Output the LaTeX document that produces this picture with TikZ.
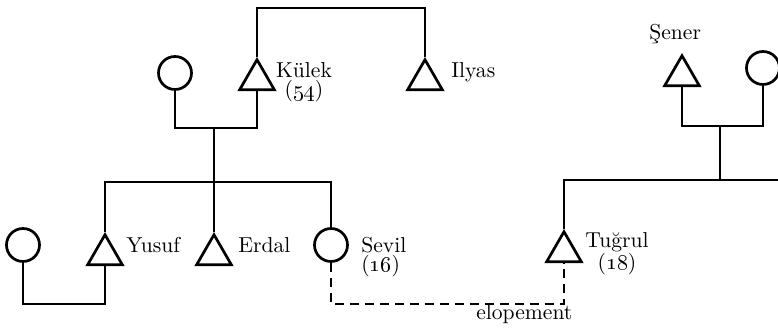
\documentclass[tikz,border=0pt]{standalone}
\usepackage{tikz}
\usetikzlibrary{shapes.geometric}
\usetikzlibrary{calc}
\tikzset{male/.style={draw, regular polygon, regular polygon sides=3, minimum size=20pt, inner sep=0pt, anchor=north}}
\tikzset{female/.style={draw, circle, minimum size=16.5pt, inner sep=0pt}}
\tikzset{lbl/.style={inner sep=0pt, font=\fontsize{10.8}{9.5}\selectfont}}
\tikzset{elope/.style={dash pattern=on 4.5pt off 3pt}}

\begin{document}
\begin{tikzpicture}[x=0.5pt,y=-0.5pt,line width=1.35pt]
  \useasboundingbox (0,0) rectangle (778,335);
  \node[female] (kulekwife) at (175,73) {};
  \node[male] (kulek) at (257,57) {};
  \node[male] (ilyas) at (425,57) {};
  \node[female] (yusufwife) at (23,245) {};
  \node[male] (yusuf) at (105,232) {};
  \node[male] (erdal) at (214,232) {};
  \node[female] (sevil) at (331,245) {};
  \node[male] (tugrul) at (564,229) {};
  \node[male] (sener) at (682,53) {};
  \node[female] (senerwife) at (763,68) {};
  \coordinate (kulektop) at (340,8);
  \coordinate (kulekmar) at (214,128);
  \coordinate (kulekkids) at (214,182);
  \coordinate (yusufmar) at (64,304);
  \coordinate (elopemar) at (448,304);
  \coordinate (senermar) at (720,126);
  \coordinate (senerkids) at (720,180);
  \coordinate (senerkidsend) at (790,180);
  \draw (kulek.north) |- (kulektop) -| (ilyas.north);
  \draw (kulekwife.south) |- (kulekmar) -| (kulek.south);
  \draw (kulekmar) -- (kulekkids);
  \draw (yusuf.north) |- (kulekkids) -| (sevil.north);
  \draw (kulekkids) -- (erdal.north);
  \draw (yusufwife.south) |- (yusufmar) -| (yusuf.south);
  \draw[elope] (sevil.south) |- (elopemar) -| (tugrul.south);
  \draw (sener.south) |- (senermar) -| (senerwife.south);
  \draw (senermar) -- (senerkids);
  \draw (tugrul.north) |- (senerkids) -- (senerkidsend);
  \node[lbl, align=center, anchor=base] (kuleklbl) at (304,97) {Külek\\(\oldstylenums{54})};
  \node[lbl, anchor=base west] (ilyaslbl) at (450,78) {Ilyas};
  \node[lbl, anchor=base west] (yusuflbl) at (125,253) {Yusuf};
  \node[lbl, anchor=base west] (erdallbl) at (237,253) {Erdal};
  \node[lbl, align=left, anchor=base west] (sevillbl) at (360,272) {Sevil\\(\oldstylenums{16})};
  \node[lbl, align=center, anchor=base] (tugrullbl) at (617,270) {Tuğrul\\(\oldstylenums{18})};
  \node[lbl, anchor=base west] (senerlbl) at (648,40) {Şener};
  \node[lbl, anchor=base west] (elopelbl) at (475,320) {elopement};
\end{tikzpicture}
\end{document}
